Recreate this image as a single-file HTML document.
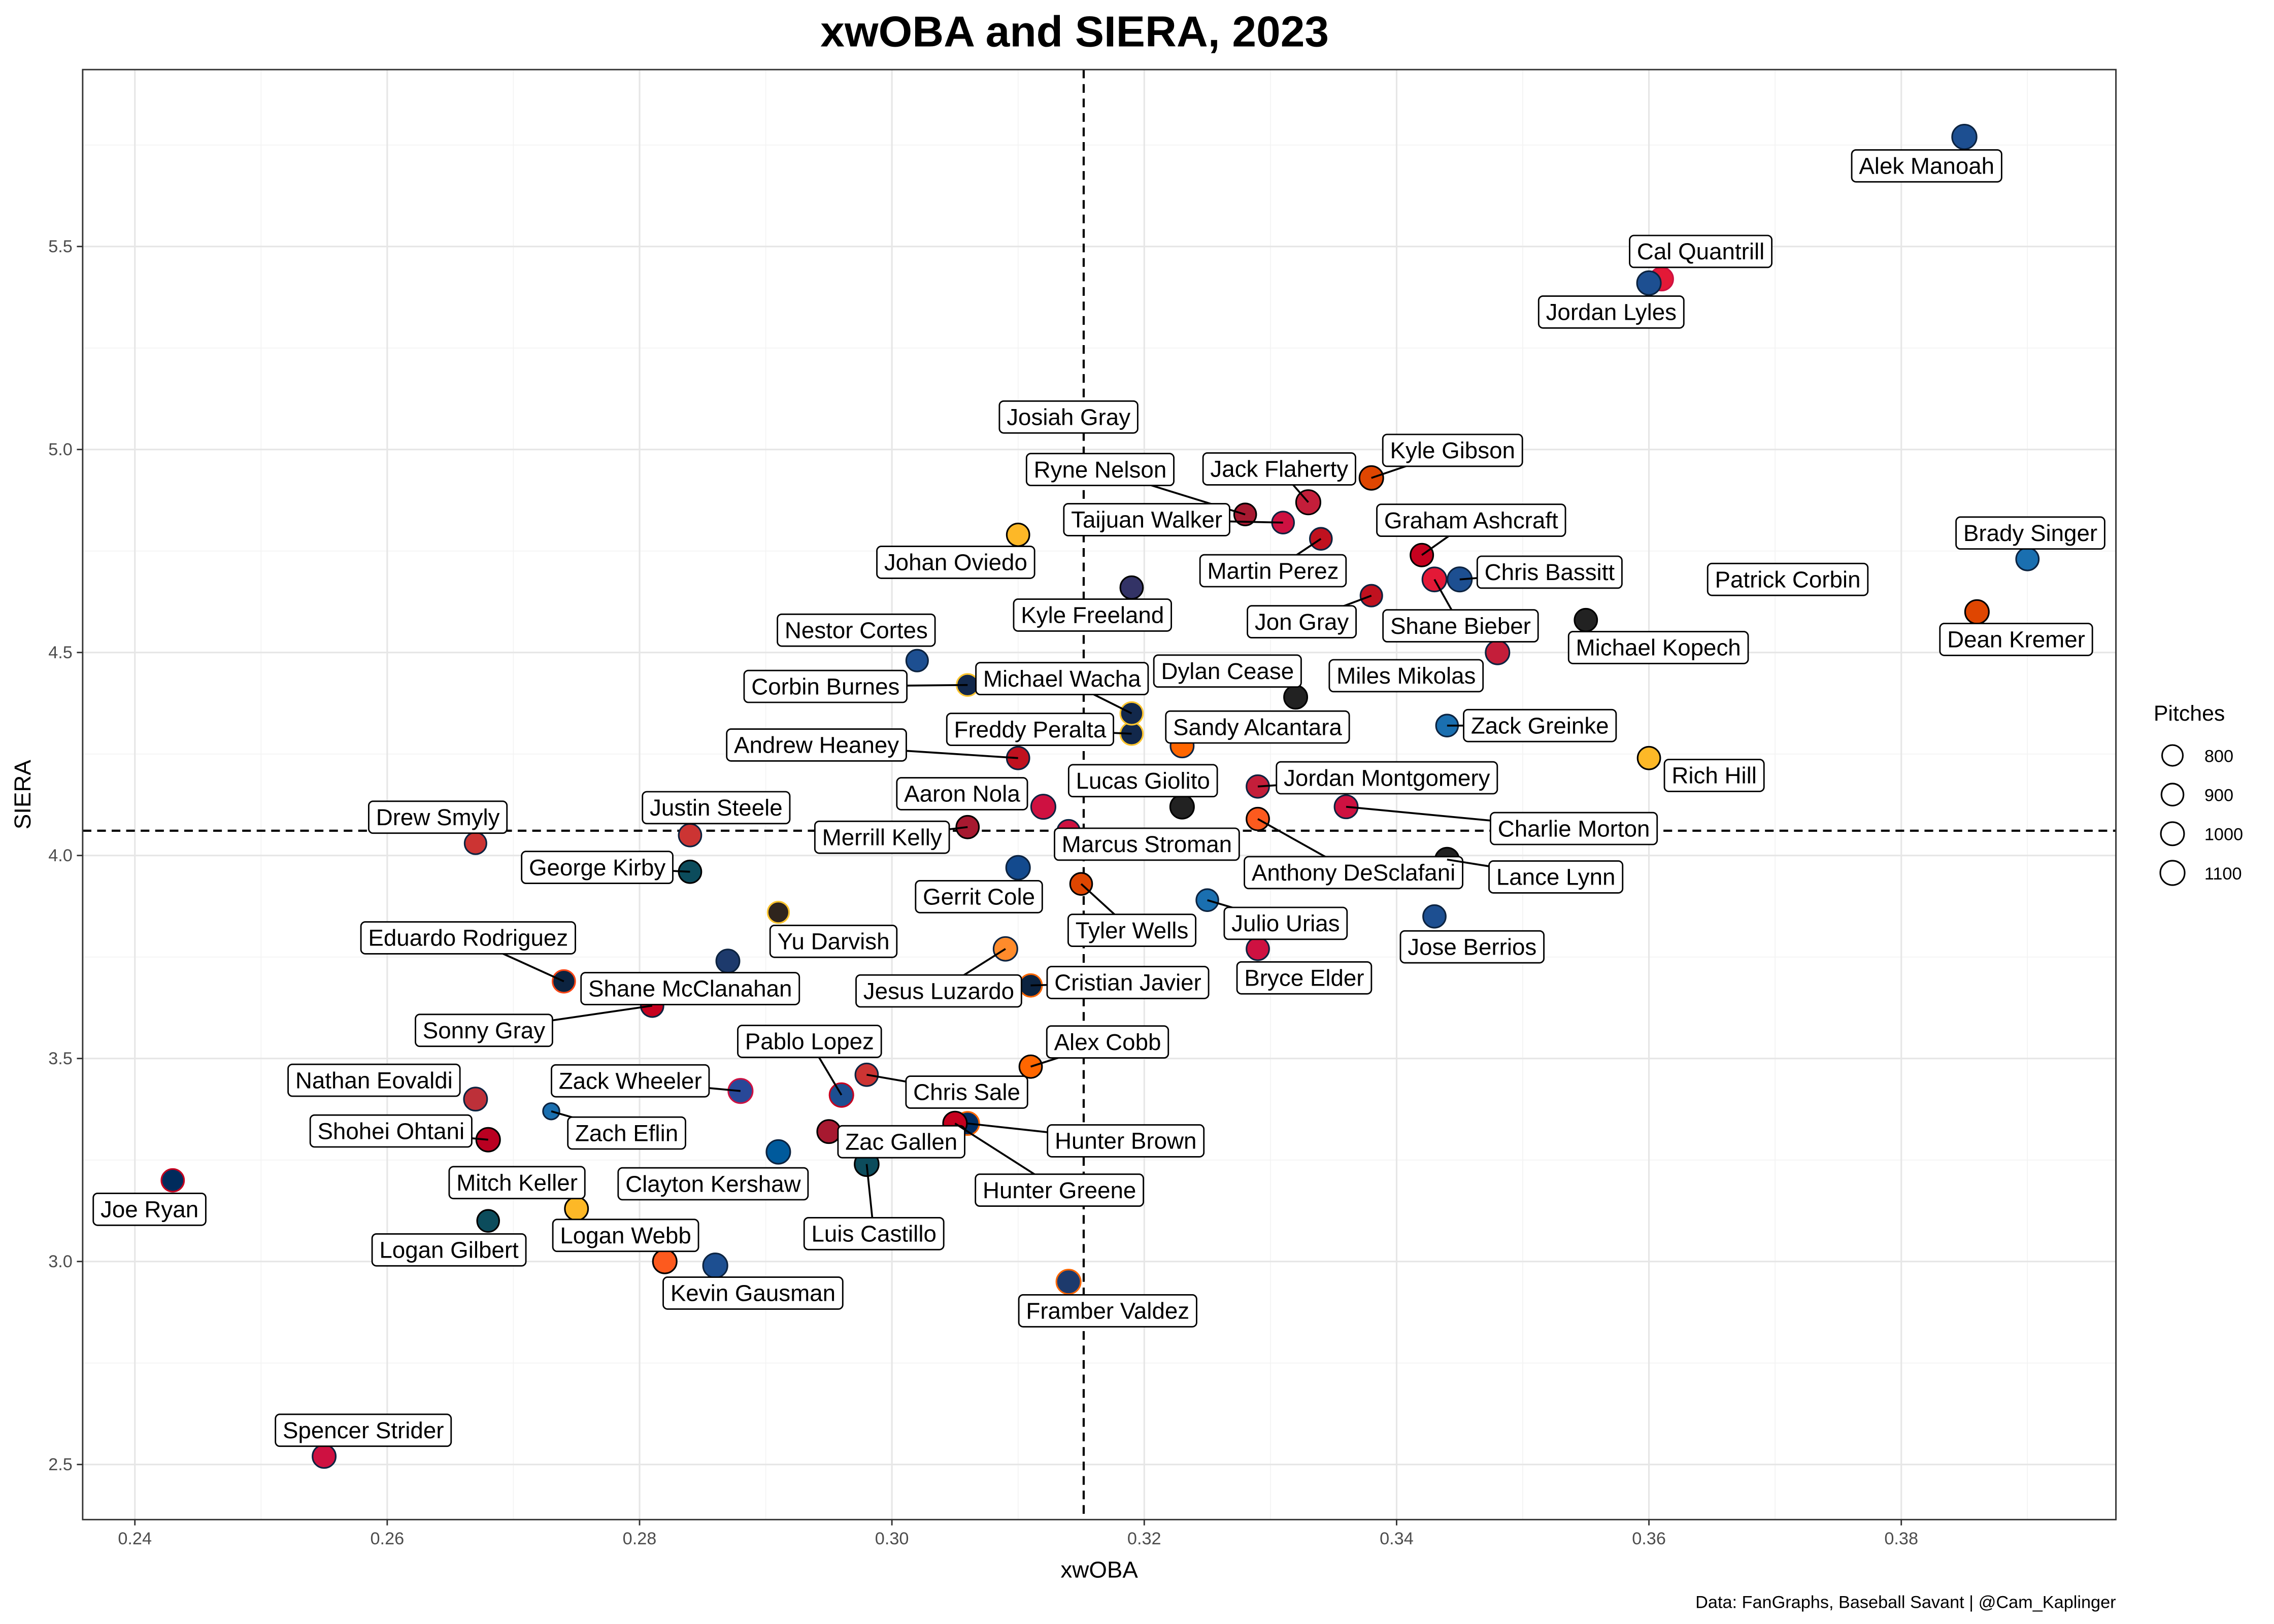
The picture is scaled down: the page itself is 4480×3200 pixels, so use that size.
<!DOCTYPE html>
<html><head><meta charset="utf-8"><style>
html,body{margin:0;padding:0;background:#fff;}
svg{display:block;font-family:"Liberation Sans",Helvetica,Arial,sans-serif;}
</style></head><body>
<svg id="chart" width="4480" height="3200" viewBox="0 0 1568 1120" xmlns="http://www.w3.org/2000/svg">
<rect x="0" y="0" width="1568" height="1120" fill="#fff"/>
<text x="741" y="32" text-anchor="middle" font-size="30" font-weight="bold" fill="#000">xwOBA and SIERA, 2023</text>
<g id="grid"></g>
<g id="axes"></g>
<g id="marks"></g>
<g id="labels"></g>
<text x="758" y="1088" text-anchor="middle" font-size="16" fill="#000">xwOBA</text>
<text transform="translate(21,548) rotate(-90)" text-anchor="middle" font-size="16" fill="#000">SIERA</text>
<text x="1459" y="1109" text-anchor="end" font-size="12" fill="#000">Data: FanGraphs, Baseball Savant | @Cam_Kaplinger</text>
<g id="legend"></g>
</svg>
<script>
const names=["Alek Manoah","Cal Quantrill","Jordan Lyles","Brady Singer","Dean Kremer","Patrick Corbin","Michael Kopech","Kyle Gibson","Graham Ashcraft","Chris Bassitt","Shane Bieber","Jack Flaherty","Ryne Nelson","Taijuan Walker","Martin Perez","Jon Gray","Miles Mikolas","Zack Greinke","Rich Hill","Dylan Cease","Sandy Alcantara","Jordan Montgomery","Charlie Morton","Lucas Giolito","Anthony DeSclafani","Lance Lynn","Jose Berrios","Julio Urias","Bryce Elder","Tyler Wells","Marcus Stroman","Cristian Javier","Gerrit Cole","Jesus Luzardo","Aaron Nola","Merrill Kelly","Freddy Peralta","Michael Wacha","Corbin Burnes","Andrew Heaney","Kyle Freeland","Johan Oviedo","Josiah Gray","Nestor Cortes","Drew Smyly","Justin Steele","George Kirby","Yu Darvish","Shane McClanahan","Eduardo Rodriguez","Sonny Gray","Pablo Lopez","Chris Sale","Zack Wheeler","Nathan Eovaldi","Zach Eflin","Shohei Ohtani","Alex Cobb","Hunter Brown","Zac Gallen","Hunter Greene","Clayton Kershaw","Luis Castillo","Mitch Keller","Logan Webb","Logan Gilbert","Joe Ryan","Kevin Gausman","Framber Valdez","Spencer Strider"];
const xwoba=[0.385,0.361,0.360,0.390,0.386,0.371,0.355,0.338,0.342,0.345,0.343,0.333,0.328,0.331,0.334,0.338,0.348,0.344,0.360,0.332,0.323,0.329,0.336,0.323,0.329,0.344,0.343,0.325,0.329,0.315,0.314,0.311,0.310,0.309,0.312,0.306,0.319,0.319,0.306,0.310,0.319,0.310,0.314,0.302,0.267,0.284,0.284,0.291,0.287,0.274,0.281,0.296,0.298,0.288,0.267,0.273,0.268,0.311,0.306,0.295,0.305,0.291,0.298,0.275,0.282,0.268,0.243,0.286,0.314,0.255];
const siera=[5.77,5.42,5.41,4.73,4.60,4.68,4.58,4.93,4.74,4.68,4.68,4.87,4.84,4.82,4.78,4.64,4.50,4.32,4.24,4.39,4.27,4.17,4.12,4.12,4.09,3.99,3.85,3.89,3.77,3.93,4.06,3.68,3.97,3.77,4.12,4.07,4.30,4.35,4.42,4.24,4.66,4.79,5.08,4.48,4.03,4.05,3.96,3.86,3.74,3.69,3.63,3.41,3.46,3.42,3.40,3.37,3.30,3.48,3.34,3.32,3.34,3.27,3.24,3.13,3.00,3.10,3.20,2.99,2.95,2.52];
const pitches=[1110,1000,1050,950,1050,1000,950,1050,960,1100,1080,1100,900,900,900,880,1050,900,950,1000,1000,950,1000,1050,950,1050,950,900,950,900,950,950,1050,1050,1100,950,950,950,900,950,950,950,1000,880,880,950,950,850,1000,950,950,1050,950,1100,1000,500,1050,950,1000,1000,1050,1050,1080,1000,1050,900,950,1100,1100,1000];
const fills=["#1d4f91","#e31937","#1d4f91","#1a6fb0","#df4601","#1d4f91","#222222","#df4601","#c6011f","#1d4f91","#e31937","#c41e3a","#a71930","#ce1141","#c0111f","#c0111f","#c41e3a","#1a6fb0","#fdb827","#222222","#ff6600","#c41e3a","#ce1141","#222222","#fd5a1e","#222222","#1d4f91","#1a6fb0","#ce1141","#df4601","#ce1141","#0c2340","#134a8e","#ff8b2b","#ce1141","#a71930","#12284b","#12284b","#12284b","#c0111f","#333366","#fdb827","#1d4f91","#1d4f91","#cc3433","#cc3433","#0c4c5c","#2f241d","#1d3a6c","#0c2340","#c6011f","#1d4f91","#cc3433","#284898","#bd3039","#1a6fb0","#ba0021","#ff6600","#002d62","#a71930","#c6011f","#005a9c","#0c4c5c","#fdb827","#fd5a1e","#0c4c5c","#002b5c","#1d4f91","#1d3a6c","#ce1141"];
const strokes=["#0c2340","#ce1141","#0c2340","#0c2340","#000","#000","#000","#000","#000","#0c2340","#0c2340","#000","#000","#0c2340","#0c2340","#0c2340","#0c2340","#0c2340","#000","#000","#0c2340","#0c2340","#0c2340","#000","#000","#000","#0c2340","#0c2340","#0c2340","#000","#0c2340","#ff6600","#0c2340","#0c2340","#0c2340","#000","#ffc52f","#ffc52f","#ffc52f","#0c2340","#000","#000","#c41e3a","#0c2340","#0c2340","#0c2340","#000","#ffc52f","#0c2340","#fa4616","#0c2340","#c6011f","#0c2340","#ce1141","#0c2340","#0c2340","#000","#000","#ff6600","#000","#000","#0c2340","#000","#000","#000","#000","#c6011f","#0c2340","#ff6600","#0c2340"];
const labelDx=[-26,27,-26,2,27,0,50,56,34,62,18,-20,-100,-94,-33,-48,-63,64,45,-47,52,89,157,-27,66,75,26,54,32,35,54,67,-27,-46,-56,-59,-70,-48,-98,-139,-27,-43,0,-42,-26,18,-64,38,-26,-66,-116,-22,69,-76,-70,52,-67,53,109,50,72,-45,5,-41,-27,-27,-16,26,27,27];
const labelDy=[20,-19,20,-18,19,0,19,-19,-24,-5,32,-23,-31,-2,22,18,16,0,12,-18,-13,-6,15,-18,37,12,21,16,20,32,9,-2,20,29,-9,7,-3,-24,1,-9,19,19,0,-21,-18,-19,-3,20,19,-30,17,-37,12,-7,-13,15,-6,-17,12,7,46,22,48,-18,-18,20,20,19,20,-18];
const xTicks=[0.24,0.26,0.28,0.30,0.32,0.34,0.36,0.38];
const yTicks=[2.5,3.0,3.5,4.0,4.5,5.0,5.5];
const xMinor=[0.25,0.27,0.29,0.31,0.33,0.35,0.37,0.39];
const yMinor=[2.75,3.25,3.75,4.25,4.75,5.25,5.75];
const refX=[0.3152];
const refY=[4.061];
const legendVals=[800,900,1000,1100];

const NS="http://www.w3.org/2000/svg";
const L=57,R=1459,T=48,B=1048;
const sx=v=>93+(v-0.24)*8700;
const sy=v=>870-(v-3)*280;
const sr=p=>Math.max(1.2,Math.sqrt(Math.max(p,0)/1100)*8.4);
function mk(tag,attrs,parent){const e=document.createElementNS(NS,tag);for(const k in attrs)e.setAttribute(k,attrs[k]);parent.appendChild(e);return e;}
const grid=document.getElementById('grid'),axes=document.getElementById('axes'),marks=document.getElementById('marks'),labels=document.getElementById('labels'),legend=document.getElementById('legend');
mk('rect',{x:L,y:T,width:R-L,height:B-T,fill:'#fff'},grid);
xMinor.forEach(v=>{const e=mk('line',{x1:sx(v),x2:sx(v),y1:T,y2:B,stroke:'#f3f3f3','stroke-width':0.6},grid);

});
yMinor.forEach(v=>{const e=mk('line',{x1:L,x2:R,y1:sy(v),y2:sy(v),stroke:'#f3f3f3','stroke-width':0.6},grid);

});
xTicks.forEach(v=>{const e=mk('line',{x1:sx(v),x2:sx(v),y1:T,y2:B,stroke:'#e6e6e6','stroke-width':1.1},grid);


mk('line',{x1:sx(v),x2:sx(v),y1:B,y2:B+4,stroke:'#333','stroke-width':1},axes);
const t=mk('text',{x:sx(v),y:B+17,'text-anchor':'middle','font-size':12,fill:'#4d4d4d'},axes);t.textContent=v.toFixed(2);

});
yTicks.forEach(v=>{const e=mk('line',{x1:L,x2:R,y1:sy(v),y2:sy(v),stroke:'#e6e6e6','stroke-width':1.1},grid);


mk('line',{x1:L-4,x2:L,y1:sy(v),y2:sy(v),stroke:'#333','stroke-width':1},axes);
const t=mk('text',{x:L-7,y:sy(v)+4,'text-anchor':'end','font-size':12,fill:'#4d4d4d'},axes);t.textContent=v.toFixed(1);

});
const border=mk('rect',{x:L,y:T,width:R-L,height:B-T,fill:'none',stroke:'#333','stroke-width':1},axes);


refX.forEach(v=>{const e=mk('line',{x1:sx(v),x2:sx(v),y1:T,y2:B,stroke:'#000','stroke-width':1.5,'stroke-dasharray':'6,4'},grid);

});
refY.forEach(v=>{const e=mk('line',{x1:L,x2:R,y1:sy(v),y2:sy(v),stroke:'#000','stroke-width':1.5,'stroke-dasharray':'6,4'},grid);

});
names.forEach((n,i)=>{
 const cx=sx(xwoba[i]),cy=sy(siera[i]);
 const r=sr(pitches[i]);
 const c=mk('circle',{cx:cx,cy:cy,r:r,fill:fills[i],stroke:strokes[i],'stroke-width':1.1},marks);
 
 
 const lx=cx+labelDx[i],ly=cy+labelDy[i];
 const g=mk('g',{},labels);
 
 
 const line=mk('line',{x1:cx,y1:cy,x2:lx,y2:ly,stroke:'#000','stroke-width':1.3},g);
 const rect=mk('rect',{rx:3,ry:3,fill:'#fff',stroke:'#000','stroke-width':1},g);
 const t=mk('text',{x:lx,y:ly+5.5,'text-anchor':'middle','font-size':16,fill:'#000'},g);t.textContent=n;
 const w=t.getComputedTextLength();
 const hw=w/2+5,hh=11;
 const gx=Math.max(0,Math.abs(labelDx[i])-hw),gy=Math.max(0,Math.abs(labelDy[i])-hh);
 if(Math.hypot(gx,gy)-r<=3){line.remove();}
 rect.setAttribute('x',lx-hw);rect.setAttribute('y',ly-hh);rect.setAttribute('width',hw*2);rect.setAttribute('height',hh*2);
});
const lt=mk('text',{x:1485,y:497,'font-size':15,fill:'#000'},legend);lt.textContent='Pitches';


legendVals.forEach((v,i)=>{const y=521+i*27;
 const c=mk('circle',{cx:1498,cy:y,r:sr(v),fill:'#fff',stroke:'#000','stroke-width':1.1},legend);
 
 
 const t=mk('text',{x:1520,y:y+4.5,'font-size':12,fill:'#000'},legend);t.textContent=v;
 
 });
</script>
</body></html>
